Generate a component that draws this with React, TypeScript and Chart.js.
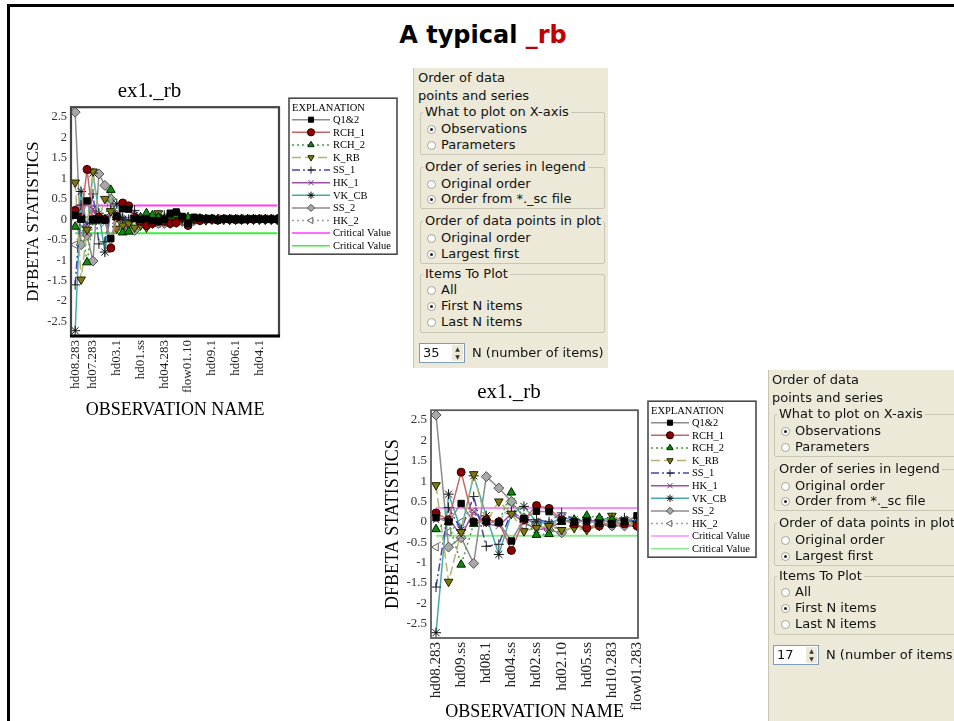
import React, { useEffect, useRef } from 'react';
import { Chart, registerables } from 'chart.js';
import { drawPoint } from 'chart.js/helpers';

Chart.register(...registerables);

// ---------------- DATA ----------------
const seriesNames = ['Q1&2', 'RCH_1', 'RCH_2', 'K_RB', 'SS_1', 'HK_1', 'VK_CB', 'SS_2', 'HK_2'];

// DFBETA values per observation, ordered "largest first" (35 items)
const q12 = [0.10, 0.00, 0.45, 0.00, 0.00, -0.02, -0.47, 0.08, 0.26, 0.25, 0.02, 0.00, 0.02, -0.03, -0.05, 0.00, 0.15, 0.18, 0.07, -0.10, 0.05, 0.03, 0.00, 0.02, -0.02, 0.01, 0.00, 0.01, -0.01, 0.00, 0.01, 0.00, 0.00, 0.00, 0.00];
const rch1 = [0.22, 0.05, 1.22, 0.00, 0.05, 0.00, -0.70, 0.05, 0.40, 0.33, 0.05, -0.05, -0.15, -0.10, -0.05, -0.05, -0.10, -0.08, 0.05, -0.15, 0.02, -0.03, 0.01, 0.00, -0.02, 0.01, 0.00, -0.01, 0.00, 0.00, 0.00, 0.01, 0.00, 0.00, 0.00];
const rch2 = [-0.18, 0.00, -1.05, -0.05, 0.02, 0.00, 0.72, 0.05, -0.32, -0.30, 0.00, 0.05, 0.15, 0.10, 0.05, 0.00, -0.05, 0.10, 0.00, 0.05, -0.03, 0.02, 0.00, 0.01, 0.00, -0.01, 0.00, 0.00, 0.01, 0.00, 0.00, 0.00, 0.00, 0.00, 0.00];
const kRb = [0.90, -1.47, -0.25, 1.17, 0.00, 0.50, 0.20, -0.23, -0.15, -0.10, -0.20, -0.15, -0.20, -0.10, 0.15, 0.00, -0.05, 0.12, 0.05, -0.05, 0.02, 0.00, -0.02, 0.01, 0.00, 0.00, -0.01, 0.00, 0.00, 0.00, 0.00, 0.00, 0.00, 0.00, 0.00];
const ss1 = [-1.60, 0.35, -0.20, 0.62, -0.60, -0.55, 0.25, 0.05, 0.05, 0.00, 0.22, 0.05, 0.05, 0.00, 0.05, 0.10, 0.00, 0.05, 0.00, -0.03, 0.02, 0.00, 0.01, 0.00, 0.00, 0.00, 0.00, 0.00, 0.00, 0.00, 0.00, 0.00, 0.00, 0.00, 0.00];
const hk1 = [0.05, 0.10, -0.35, 0.25, -0.05, -0.10, 0.20, 0.00, -0.20, -0.15, 0.00, 0.05, 0.00, 0.05, 0.00, 0.05, -0.05, 0.03, -0.02, 0.00, 0.01, 0.00, 0.00, 0.00, 0.00, 0.00, 0.00, 0.00, 0.00, 0.00, 0.00, 0.00, 0.00, 0.00, 0.00];
const vkCb = [-2.72, 0.68, -0.20, 1.13, 0.15, -0.80, 0.20, 0.38, 0.00, -0.05, 0.10, 0.05, 0.00, 0.05, 0.10, 0.05, 0.00, 0.04, -0.02, 0.01, 0.00, 0.00, 0.00, 0.00, 0.00, 0.00, 0.00, 0.00, 0.00, 0.00, 0.00, 0.00, 0.00, 0.00, 0.00];
const ss2 = [2.62, -0.62, -0.39, -1.02, 1.11, 0.83, 0.50, 0.10, -0.07, -0.20, -0.27, -0.10, -0.15, -0.05, -0.10, -0.10, -0.10, -0.08, -0.05, -0.04, -0.03, -0.02, -0.01, 0.00, 0.00, 0.00, 0.00, 0.00, 0.00, 0.00, 0.00, 0.00, 0.00, 0.00, 0.00];
const hk2 = [-0.62, -0.25, 0.00, 0.25, 0.05, 0.00, 0.45, -0.10, 0.00, -0.10, 0.05, 0.00, -0.05, 0.00, -0.10, 0.05, -0.05, 0.03, 0.02, 0.01, 0.02, 0.02, 0.02, 0.02, 0.02, 0.02, 0.02, 0.02, 0.02, 0.02, 0.02, 0.02, 0.02, 0.02, 0.02];
const seriesValues = [q12, rch1, rch2, kRb, ss1, hk1, vkCb, ss2, hk2];

const criticalValue = 0.338;
const yTicks = [-2.5, -2, -1.5, -1, -0.5, 0, 0.5, 1, 1.5, 2, 2.5];

const chart1Count = 35;
const chart1TickIndex = [0, 3, 7, 11, 15, 19, 23, 27, 31];
const chart1TickLabels = ['hd08.283', 'hd07.283', 'hd03.1', 'hd01.ss', 'hd04.283', 'flow01.10', 'hd09.1', 'hd06.1', 'hd04.1'];

const chart2Count = 17;
const chart2TickIndex = [0, 2, 4, 6, 8, 10, 12, 14, 16];
const chart2TickLabels = ['hd08.283', 'hd09.ss', 'hd08.1', 'hd04.ss', 'hd02.ss', 'hd02.10', 'hd05.ss', 'hd10.283', 'flow01.283'];

// ---------------- STYLES ----------------
const seriesStyles = [
  { line: '#8c8c8c', dash: [], point: 'rect', rot: 0, fill: '#000000', stroke: '#000000', r: 4.5 },
  { line: '#c86464', dash: [], point: 'circle', rot: 0, fill: '#8b0000', stroke: '#300000', r: 4 },
  { line: '#3ca03c', dash: [2, 3], point: 'triangle', rot: 0, fill: '#118811', stroke: '#002200', r: 5 },
  { line: '#b4b46e', dash: [9, 4], point: 'triangle', rot: 180, fill: '#7a7a10', stroke: '#222200', r: 5 },
  { line: '#4646b4', dash: [8, 3, 2, 3], point: 'cross', rot: 0, fill: '#000000', stroke: '#202020', r: 5 },
  { line: '#a050a0', dash: [], point: 'crossRot', rot: 0, fill: '#a050a0', stroke: '#7a307a', r: 4.5 },
  { line: '#46aaaa', dash: [], point: 'star', rot: 0, fill: '#000000', stroke: '#101010', r: 5 },
  { line: '#8c8c8c', dash: [], point: 'rectRot', rot: 0, fill: '#a8a8a8', stroke: '#505050', r: 5 },
  { line: '#a0a0a0', dash: [2, 3], point: 'triangle', rot: 270, fill: '#ffffff', stroke: '#606060', r: 4.5 },
];

const SERIF = '"Liberation Serif", "Times New Roman", serif';

const frameLegendPlugin = {
  id: 'frameLegend',
  afterDraw(chart: any, _args: any, opts: any) {
    const { ctx, chartArea: a } = chart;
    ctx.save();
    ctx.setLineDash([]);
    ctx.strokeStyle = opts.frameColor;
    ctx.lineWidth = opts.frameWidth;
    ctx.strokeRect(a.left, a.top, a.right - a.left, a.bottom - a.top);
    if (opts.bottomBlack) {
      ctx.strokeStyle = '#000';
      ctx.lineWidth = 3;
      ctx.beginPath();
      ctx.moveTo(a.left - 1, a.bottom);
      ctx.lineTo(a.right + 1, a.bottom);
      ctx.stroke();
    }
    // legend box
    const lx = a.right + 10;
    const ly = a.top - 9;
    const lw = 108;
    const lh = 156;
    ctx.fillStyle = '#fff';
    ctx.fillRect(lx, ly, lw, lh);
    ctx.strokeStyle = '#4a4a4a';
    ctx.lineWidth = 1.6;
    ctx.strokeRect(lx, ly, lw, lh);
    ctx.fillStyle = '#000';
    ctx.textBaseline = 'middle';
    ctx.textAlign = 'left';
    ctx.font = '10.5px ' + SERIF;
    ctx.fillText('EXPLANATION', lx + 3, ly + 10);
    chart.data.datasets.forEach((ds: any, i: number) => {
      const y = ly + 21.5 + i * 12.6;
      ctx.save();
      ctx.strokeStyle = ds.borderColor;
      ctx.lineWidth = 1.5;
      ctx.setLineDash(ds.borderDash || []);
      ctx.beginPath();
      ctx.moveTo(lx + 3, y);
      ctx.lineTo(lx + 41, y);
      ctx.stroke();
      ctx.setLineDash([]);
      if (ds.pointRadius > 0) {
        ctx.fillStyle = ds.pointBackgroundColor;
        ctx.strokeStyle = ds.pointBorderColor;
        ctx.lineWidth = 1;
        drawPoint(ctx, { pointStyle: ds.pointStyle, rotation: ds.pointRotation || 0, radius: 3.6, borderWidth: 1 }, lx + 22, y);
      }
      ctx.restore();
      ctx.fillStyle = '#000';
      ctx.font = '10.5px ' + SERIF;
      ctx.textBaseline = 'middle';
      ctx.fillText(ds.label, lx + 44, y + 0.5);
    });
    ctx.restore();
  },
};

type ChartProps = {
  left: number; top: number; width: number; height: number;
  count: number; xMin: number; xMax: number;
  tickIndex: number[]; tickLabels: string[];
  padRight: number; yAxisWidth: number; xAxisHeight: number;
  titleSize: number; titlePadTop: number; titlePadBottom: number;
  yTitleSize: number; yTitlePad: number; xTitleSize: number; xTitlePad: number;
  xTickSize: number; yTickSize: number; bottomBlack: boolean;
  frameColor: string; frameWidth: number;
  critColors: string[];
};

function DfbetaChart(p: ChartProps) {
  const ref = useRef<HTMLCanvasElement | null>(null);
  useEffect(() => {
    if (!ref.current) return;
    const idx = Array.from({ length: p.count }, (_, i) => i);
    const datasets: any[] = seriesNames.map((name, s) => {
      const st = seriesStyles[s];
      return {
        label: name,
        data: idx.map((i) => ({ x: i, y: seriesValues[s][i] })),
        borderColor: st.line,
        borderWidth: 1.5,
        borderDash: st.dash,
        pointStyle: st.point,
        pointRotation: st.rot,
        pointRadius: st.r,
        pointBackgroundColor: st.fill,
        pointBorderColor: st.stroke,
        pointBorderWidth: 1,
        tension: 0,
        fill: false,
      };
    });
    const last = p.count - 1;
    datasets.push({
      label: 'Critical Value',
      data: [{ x: 0, y: criticalValue }, { x: last, y: criticalValue }],
      borderColor: p.critColors[0], borderWidth: 2, pointRadius: 0, borderDash: [],
    });
    datasets.push({
      label: 'Critical Value',
      data: [{ x: 0, y: -criticalValue }, { x: last, y: -criticalValue }],
      borderColor: p.critColors[1], borderWidth: 2, pointRadius: 0, borderDash: [],
    });

    const chart = new Chart(ref.current, {
      type: 'line',
      data: { datasets },
      plugins: [frameLegendPlugin],
      options: {
        responsive: false,
        animation: false,
        events: [],
        layout: { padding: { left: 0, right: p.padRight, top: 0, bottom: 0 } },
        plugins: {
          legend: { display: false },
          tooltip: { enabled: false },
          title: {
            display: true,
            text: 'ex1._rb',
            color: '#000',
            font: { family: SERIF, size: p.titleSize, weight: 'normal' },
            padding: { top: p.titlePadTop, bottom: p.titlePadBottom },
          },
          frameLegend: { bottomBlack: p.bottomBlack, frameColor: p.frameColor, frameWidth: p.frameWidth },
        } as any,
        scales: {
          x: {
            type: 'linear',
            min: p.xMin,
            max: p.xMax,
            afterBuildTicks: (s: any) => { s.ticks = p.tickIndex.map((v) => ({ value: v })); },
            afterFit: (s: any) => { s.height = p.xAxisHeight; },
            ticks: {
              autoSkip: false,
              minRotation: 90,
              maxRotation: 90,
              padding: 4,
              color: '#222',
              font: { family: SERIF, size: p.xTickSize },
              callback: (v: any) => {
                const k = p.tickIndex.indexOf(Number(v));
                return k >= 0 ? p.tickLabels[k] : '';
              },
            },
            grid: { display: false, drawTicks: false },
            border: { display: false },
            title: {
              display: true,
              text: 'OBSERVATION NAME',
              color: '#000',
              font: { family: SERIF, size: p.xTitleSize },
              padding: { top: 0, bottom: p.xTitlePad },
            },
          },
          y: {
            type: 'linear',
            min: -2.85,
            max: 2.74,
            afterBuildTicks: (s: any) => { s.ticks = yTicks.map((v) => ({ value: v })); },
            afterFit: (s: any) => { s.width = p.yAxisWidth; },
            ticks: {
              padding: 4,
              color: '#333',
              font: { family: SERIF, size: p.yTickSize },
              callback: (v: any) => String(v),
            },
            grid: { display: false, drawTicks: false },
            border: { display: false },
            title: {
              display: true,
              text: 'DFBETA STATISTICS',
              color: '#000',
              font: { family: SERIF, size: p.yTitleSize },
              padding: { top: p.yTitlePad, bottom: 0 },
            },
          },
        },
      } as any,
    });
    return () => chart.destroy();
  }, []);
  return (
    <canvas
      ref={ref}
      width={p.width}
      height={p.height}
      style={{ position: 'absolute', left: p.left, top: p.top, width: p.width, height: p.height }}
    />
  );
}

// ---------------- OPTIONS PANEL ----------------
const PANEL_FONT = '"DejaVu Sans", Tahoma, sans-serif';
const PANEL_BG = '#ece9d8';

function Radio({ x, cy, checked, label }: { x: number; cy: number; checked: boolean; label: string }) {
  return (
    <>
      <div style={{ position: 'absolute', left: x - 4, top: cy - 4, width: 7, height: 7, borderRadius: '50%', border: '1px solid #a4a39a', background: '#fff', boxSizing: 'content-box' }}>
        {checked && <div style={{ position: 'absolute', left: 2, top: 2, width: 3, height: 3, borderRadius: '50%', background: '#222' }} />}
      </div>
      <div style={{ position: 'absolute', left: x + 10, top: cy - 8, lineHeight: '16px', whiteSpace: 'nowrap' }}>{label}</div>
    </>
  );
}

type Group = { label: string; cy: number; bottom: number; items: { label: string; cy: number; checked: boolean }[] };

const panelGroups: Group[] = [
  { label: 'What to plot on X-axis', cy: 44, bottom: 87, items: [
    { label: 'Observations', cy: 61, checked: true },
    { label: 'Parameters', cy: 77, checked: false },
  ] },
  { label: 'Order of series in legend', cy: 99, bottom: 141, items: [
    { label: 'Original order', cy: 116, checked: false },
    { label: 'Order from *._sc file', cy: 131, checked: true },
  ] },
  { label: 'Order of data points in plot', cy: 153, bottom: 196, items: [
    { label: 'Original order', cy: 170, checked: false },
    { label: 'Largest first', cy: 186, checked: true },
  ] },
  { label: 'Items To Plot', cy: 206, bottom: 265, items: [
    { label: 'All', cy: 222, checked: false },
    { label: 'First N items', cy: 238, checked: true },
    { label: 'Last N items', cy: 254, checked: false },
  ] },
];

function Panel({ left, top, width, height, n, inset }: { left: number; top: number; width: number; height: number; n: string; inset: number }) {
  return (
    <div style={{ position: 'absolute', left, top, width, height, background: PANEL_BG, fontFamily: PANEL_FONT, fontSize: 13, color: '#111', borderLeft: '1px solid #c8c5b4' }}>
      <div style={{ position: 'absolute', left: inset + 4, top: 2, lineHeight: '16px', whiteSpace: 'nowrap' }}>Order of data</div>
      <div style={{ position: 'absolute', left: inset + 4, top: 20, lineHeight: '16px', whiteSpace: 'nowrap' }}>points and series</div>
      {panelGroups.map((g, gi) => (
        <React.Fragment key={gi}>
          <div style={{ position: 'absolute', left: inset + 6, top: g.cy, width: 185, height: g.bottom - g.cy, border: '1px solid #c9c6b6', borderRadius: 2, boxSizing: 'border-box' }} />
          <div style={{ position: 'absolute', left: inset + 9, top: g.cy - 8, lineHeight: '16px', padding: '0 2px', background: PANEL_BG, whiteSpace: 'nowrap' }}>{g.label}</div>
          {g.items.map((it, ii) => (
            <Radio key={ii} x={inset + 17} cy={it.cy} checked={it.checked} label={it.label} />
          ))}
        </React.Fragment>
      ))}
      <div style={{ position: 'absolute', left: inset + 5, top: 275, width: 46, height: 20, background: '#fff', border: '1px solid #7f9db9', boxSizing: 'border-box' }}>
        <div style={{ position: 'absolute', left: 3, top: 1, lineHeight: '16px' }}>{n}</div>
        <div style={{ position: 'absolute', right: 1, top: 1, width: 11, height: 16, background: PANEL_BG, fontSize: 6, lineHeight: '8px', textAlign: 'center', color: '#333' }}>
          <div>▲</div>
          <div>▼</div>
        </div>
      </div>
      <div style={{ position: 'absolute', left: inset + 58, top: 277, lineHeight: '16px', whiteSpace: 'nowrap' }}>N (number of items)</div>
    </div>
  );
}

export default function App() {
  return (
    <div style={{ position: 'absolute', left: 0, top: 0, width: 954, height: 721, background: '#fff', overflow: 'hidden' }}>
      <div style={{ position: 'absolute', left: 7, top: 4, width: 947, height: 3, background: '#000' }} />
      <div style={{ position: 'absolute', left: 7, top: 4, width: 3, height: 717, background: '#000' }} />
      <div style={{ position: 'absolute', left: 0, top: 20, width: 966, textAlign: 'center', fontFamily: '"DejaVu Sans", sans-serif', fontWeight: 'bold', fontSize: 24, lineHeight: '30px', color: '#000' }}>
        A typical <span style={{ color: '#c00000' }}>_rb</span>
      </div>

      <DfbetaChart
        left={20} top={76} width={380} height={349}
        count={chart1Count} xMin={-0.7} xMax={34.3}
        tickIndex={chart1TickIndex} tickLabels={chart1TickLabels}
        padRight={121} yAxisWidth={51} xAxisHeight={89}
        titleSize={21} titlePadTop={3} titlePadBottom={3}
        yTitleSize={17} yTitlePad={3} xTitleSize={18} xTitlePad={4}
        xTickSize={13} yTickSize={12.5} bottomBlack={true}
        frameColor="#444" frameWidth={2.2}
        critColors={['#ff3cff', '#3cef3c']}
      />
      <Panel left={413} top={68} width={194} height={300} n="35" inset={0} />

      <DfbetaChart
        left={380} top={377} width={380} height={346}
        count={chart2Count} xMin={-0.4} xMax={16.08}
        tickIndex={chart2TickIndex} tickLabels={chart2TickLabels}
        padRight={122} yAxisWidth={51} xAxisHeight={85}
        titleSize={21} titlePadTop={3} titlePadBottom={5}
        yTitleSize={18} yTitlePad={2} xTitleSize={18} xTitlePad={0}
        xTickSize={15} yTickSize={13} bottomBlack={false}
        frameColor="#5a5a5a" frameWidth={1.8}
        critColors={['#ff8cff', '#8ce88c']}
      />
      <Panel left={768} top={370} width={192} height={351} n="17" inset={-1} />
    </div>
  );
}
